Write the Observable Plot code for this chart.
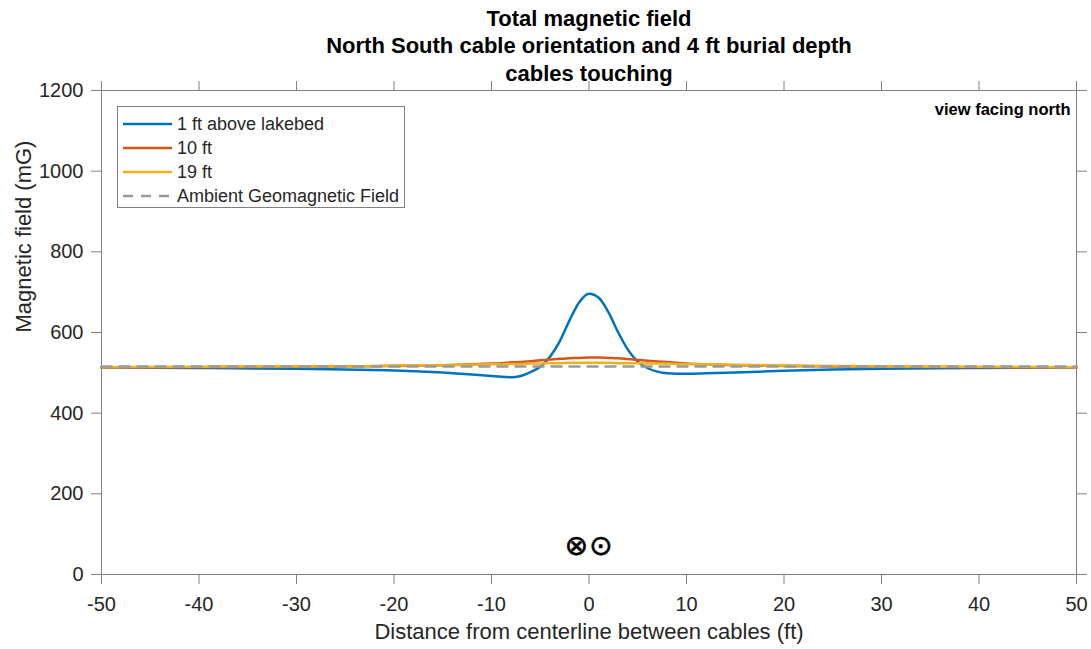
<!DOCTYPE html>
<html>
<head>
<meta charset="utf-8">
<script src="https://cdn.jsdelivr.net/npm/d3@7"></script>
<script src="https://cdn.jsdelivr.net/npm/@observablehq/plot@0.6"></script>
<style>
  body { margin: 0; background: #fff; }
  #wrap { position: relative; width: 1091px; height: 649px; font-family: "Liberation Sans", Arial, sans-serif; }
  #legend { position: absolute; left: 117px; top: 106px; width: 286px; height: 100px; border: 1px solid #808080; background: #fff; }
  #legend svg { display: block; }
</style>
</head>
<body>
<div id="wrap"><div id="chart"></div><div id="legend"></div></div>
<script>
// ---- data ----
const xs = [-50,-40,-30,-25,-20,-15,-12,-10,-9,-8,-7,-6,-5,-4,-3,-2,-1,0,1,2,3,4,5,6,7,8,9,10,12,15,20,25,30,40,50];
const blue1ft = [513,512,510,508,506,501,496,492,490,489,492,502,515,540,578,630,675,696,686,650,600,557,528,512,503,499,498,498,499,501,505,508,510,512,513];
const red10ft = [514,514,515,516,517,519,521,523,524,526,527,529,531,533,535,536,537,538,538,537,536,534,532,530,528,527,525,523,521,519,517,516,515,514,514];
const yellow19ft = [514,515,516,516,518,519,520,521,521,522,522,523,523,524,524,525,525,525,525,525,524,524,524,523,523,523,522,522,521,520,518,517,516,515,514];
const ambientX = [-50, 50];
const ambientValue = 516;
const seriesNames = ["1 ft above lakebed", "10 ft", "19 ft", "Ambient Geomagnetic Field"];
const seriesColors = ["#0072BD", "#D95319", "#EDB120", "#999999"];
const xTicks = [-50,-40,-30,-20,-10,0,10,20,30,40,50];
const yTicks = [0,200,400,600,800,1000,1200];
const titleLines = ["Total magnetic field", "North South cable orientation and 4 ft burial depth", "cables touching"];
const cableX = [-1.3, 1.2];
const cableSymbols = ["⊗", "⊙"];
const cableY = 70;

// ---- build tables ----
const series = [blue1ft, red10ft, yellow19ft];
const lineData = series.map((vals, i) => xs.map((x, j) => ({x, y: vals[j], s: seriesNames[i]})));
const ambientData = ambientX.map(x => ({x, y: ambientValue}));
const cables = cableX.map((x, i) => ({x, y: cableY, t: cableSymbols[i]}));

const axisColor = "#808080";
const textColor = "#262626";
const fmt = d => String(d);

const chart = Plot.plot({
  width: 1091,
  height: 649,
  marginLeft: 101,
  marginRight: 15,
  marginTop: 90,
  marginBottom: 75,
  style: {fontFamily: '"Liberation Sans", Arial, sans-serif', fontSize: "20px", color: textColor, background: "#fff"},
  x: {domain: [-50, 50]},
  y: {domain: [0, 1200]},
  marks: [
    Plot.frame({stroke: axisColor}),
    Plot.axisX({anchor: "bottom", ticks: xTicks, tickSize: 10, tickPadding: 12, tickFormat: fmt, stroke: axisColor, fill: textColor, fontSize: 20, label: null}),
    Plot.axisX({anchor: "top", ticks: xTicks, tickSize: 10, tickFormat: () => "", stroke: axisColor, label: null}),
    Plot.axisY({anchor: "left", ticks: yTicks, tickSize: 10, tickPadding: 8, tickFormat: fmt, stroke: axisColor, fill: textColor, fontSize: 20, label: null}),
    Plot.axisY({anchor: "right", ticks: yTicks, tickSize: 10, tickFormat: () => "", stroke: axisColor, label: null}),
    ...lineData.map((d, i) => Plot.line(d, {x: "x", y: "y", stroke: seriesColors[i], strokeWidth: 2.5, curve: "monotone-x"})),
    Plot.line(ambientData, {x: "x", y: "y", stroke: seriesColors[3], strokeWidth: 2.5, strokeDasharray: "10,8"}),
    Plot.text(cables, {x: "x", y: "y", text: "t", fontSize: 28, fill: "#000", stroke: "#000", strokeWidth: 0.6, fontFamily: '"DejaVu Sans", sans-serif'}),
    Plot.text([titleLines.join("\n")], {frameAnchor: "top", dy: -46, lineAnchor: "middle", lineHeight: 1.27, fontSize: 22, fontWeight: "bold", fill: "#000"}),
    Plot.text(["view facing north"], {frameAnchor: "top-right", dx: -6, dy: 13, textAnchor: "end", fontSize: 16.5, fontWeight: "bold", fill: "#000"}),
    Plot.text(["Distance from centerline between cables (ft)"], {frameAnchor: "bottom", dy: 64, fontSize: 22, fill: textColor}),
    Plot.text(["Magnetic field (mG)"], {frameAnchor: "left", dx: -78, rotate: -90, fontSize: 22, fill: textColor})
  ]
});
document.getElementById("chart").appendChild(chart);

// ---- legend ----
const ns = "http://www.w3.org/2000/svg";
const lg = document.createElementNS(ns, "svg");
lg.setAttribute("width", 286);
lg.setAttribute("height", 100);
seriesNames.forEach((name, i) => {
  const cy = 17 + i * 24;
  const ln = document.createElementNS(ns, "line");
  ln.setAttribute("x1", 5); ln.setAttribute("x2", 54);
  ln.setAttribute("y1", cy); ln.setAttribute("y2", cy);
  ln.setAttribute("stroke", seriesColors[i]);
  ln.setAttribute("stroke-width", 2.5);
  if (i === 3) ln.setAttribute("stroke-dasharray", "10,8");
  lg.appendChild(ln);
  const tx = document.createElementNS(ns, "text");
  tx.setAttribute("x", 59); tx.setAttribute("y", cy);
  tx.setAttribute("dy", "0.35em");
  tx.setAttribute("font-size", 18);
  tx.setAttribute("font-family", '"Liberation Sans", Arial, sans-serif');
  tx.setAttribute("fill", textColor);
  tx.textContent = name;
  lg.appendChild(tx);
});
document.getElementById("legend").appendChild(lg);
</script>
</body>
</html>
